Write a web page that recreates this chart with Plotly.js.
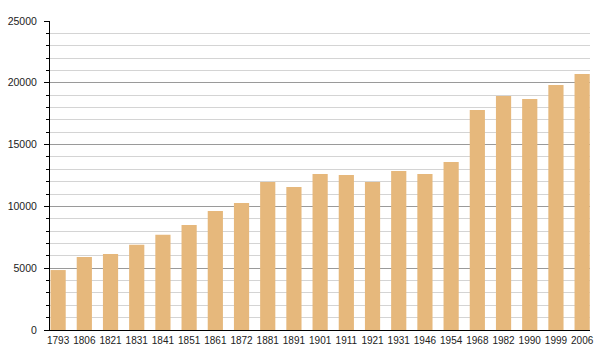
<!DOCTYPE html>
<html>
<head>
<meta charset="utf-8">
<script src="https://cdn.plot.ly/plotly-3.0.1.min.js"></script>
<style>html,body{margin:0;padding:0;background:#fff;}#chart{width:600px;height:360px;}</style>
</head>
<body>
<div id="chart"></div>
<script>
const years = ["1793","1806","1821","1831","1841","1851","1861","1872","1881","1891","1901","1911","1921","1931","1946","1954","1968","1982","1990","1999","2006"];
const population = [4850,5900,6150,6900,7700,8500,9630,10270,11970,11570,12620,12540,11970,12860,12620,13590,17800,18930,18690,19820,20710];
const yTicks = [0,5000,10000,15000,20000,25000];

const trace = {
  type: 'bar',
  x: years,
  y: population,
  width: 0.58,
  marker: {color: '#e6b87c', line: {width: 0}},
  hoverinfo: 'x+y'
};

const layout = {
  width: 600, height: 360,
  margin: {l: 50, r: 10, t: 21, b: 30, pad: 0},
  paper_bgcolor: '#fff', plot_bgcolor: '#fff',
  showlegend: false,
  font: {family: 'Liberation Sans, Arial, sans-serif', size: 11, color: '#222'},
  xaxis: {
    type: 'category',
    range: [-0.31, 20.3],
    showgrid: false,
    showline: true, linecolor: '#000', linewidth: 1,
    ticks: '', ticklen: 0,
    tickangle: 0,
    tickfont: {size: 10, color: '#222'},
    ticklabelstandoff: 1,
    fixedrange: true
  },
  yaxis: {
    range: [0, 25000],
    tickvals: yTicks,
    ticktext: yTicks.map(String),
    showgrid: true, gridcolor: '#9a9a9a', gridwidth: 1,
    zeroline: false,
    showline: true, linecolor: '#000', linewidth: 1,
    ticks: 'outside', ticklen: 5, tickcolor: '#000', tickwidth: 1,
    tickfont: {size: 10.5, color: '#222'},
    ticklabelstandoff: 5,
    minor: {dtick: 1000, showgrid: true, gridcolor: '#d4d4d4', gridwidth: 1, ticks: 'outside', ticklen: 3, tickcolor: '#000'},
    fixedrange: true
  }
};

Plotly.newPlot('chart', [trace], layout, {displayModeBar: false, staticPlot: true});
</script>
</body>
</html>
